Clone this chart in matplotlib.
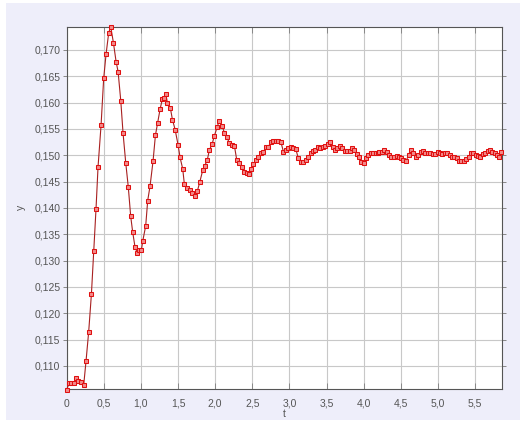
import matplotlib
matplotlib.use("Agg")
import matplotlib.pyplot as plt
from matplotlib.patches import Rectangle
from matplotlib.ticker import FuncFormatter

# response (t in seconds, y)
t = [0.000, 0.031, 0.063, 0.094, 0.126, 0.157, 0.189, 0.229, 0.260, 0.296,
     0.333, 0.364, 0.395, 0.422, 0.463, 0.498, 0.530, 0.566, 0.593, 0.629,
     0.665, 0.692, 0.728, 0.759, 0.795, 0.830, 0.862, 0.889, 0.920, 0.952,
     0.973, 1.006, 1.024, 1.064, 1.091, 1.123, 1.163, 1.195, 1.226, 1.257,
     1.287, 1.312, 1.334, 1.356, 1.397, 1.424, 1.460, 1.500, 1.527, 1.563,
     1.585, 1.625, 1.662, 1.693, 1.729, 1.760, 1.792, 1.833, 1.860, 1.895,
     1.922, 1.958, 1.989, 2.026, 2.053, 2.093, 2.124, 2.156, 2.192, 2.228,
     2.259, 2.291, 2.326, 2.358, 2.389, 2.426, 2.457, 2.484, 2.515, 2.551,
     2.582, 2.619, 2.650, 2.686, 2.717, 2.749, 2.785, 2.817, 2.848, 2.884,
     2.919, 2.951, 2.987, 3.019, 3.054, 3.086, 3.121, 3.154, 3.189, 3.221,
     3.252, 3.288, 3.319, 3.350, 3.383, 3.418, 3.450, 3.485, 3.518, 3.549,
     3.585, 3.616, 3.647, 3.683, 3.714, 3.747, 3.778, 3.814, 3.845, 3.876,
     3.908, 3.939, 3.970, 4.003, 4.034, 4.065, 4.097, 4.132, 4.164, 4.200,
     4.213, 4.245, 4.276, 4.312, 4.344, 4.375, 4.407, 4.443, 4.474, 4.506,
     4.537, 4.573, 4.605, 4.636, 4.668, 4.704, 4.735, 4.767, 4.798, 4.830,
     4.866, 4.897, 4.928, 4.960, 4.996, 5.027, 5.058, 5.090, 5.126, 5.157,
     5.189, 5.220, 5.252, 5.283, 5.315, 5.351, 5.382, 5.414, 5.445, 5.476,
     5.508, 5.539, 5.571, 5.602, 5.634, 5.670, 5.701, 5.733, 5.764, 5.796,
     5.827, 5.854]
y = [0.1055, 0.1067, 0.1067, 0.1067, 0.1077, 0.1072, 0.1069, 0.1064, 0.1109, 0.1165,
     0.1237, 0.1319, 0.1399, 0.1478, 0.1558, 0.1646, 0.1692, 0.1733, 0.1744, 0.1714,
     0.1678, 0.1659, 0.1604, 0.1542, 0.1486, 0.1439, 0.1384, 0.1354, 0.1326, 0.1314,
     0.1320, 0.1320, 0.1337, 0.1366, 0.1414, 0.1442, 0.1489, 0.1538, 0.1562, 0.1587,
     0.1606, 0.1609, 0.1617, 0.1600, 0.1589, 0.1568, 0.1549, 0.1520, 0.1496, 0.1474,
     0.1445, 0.1437, 0.1435, 0.1429, 0.1423, 0.1432, 0.1449, 0.1472, 0.1480, 0.1492,
     0.1510, 0.1521, 0.1537, 0.1553, 0.1565, 0.1556, 0.1543, 0.1535, 0.1523, 0.1520,
     0.1518, 0.1491, 0.1485, 0.1478, 0.1469, 0.1466, 0.1465, 0.1474, 0.1483, 0.1491,
     0.1497, 0.1504, 0.1507, 0.1515, 0.1516, 0.1525, 0.1528, 0.1528, 0.1528, 0.1526,
     0.1507, 0.1511, 0.1513, 0.1515, 0.1513, 0.1512, 0.1494, 0.1488, 0.1487, 0.1492,
     0.1496, 0.1504, 0.1508, 0.1510, 0.1515, 0.1513, 0.1516, 0.1518, 0.1522, 0.1525,
     0.1516, 0.1510, 0.1513, 0.1518, 0.1513, 0.1509, 0.1509, 0.1509, 0.1513, 0.1510,
     0.1503, 0.1496, 0.1488, 0.1485, 0.1494, 0.1501, 0.1505, 0.1505, 0.1505, 0.1504,
     0.1507, 0.1507, 0.1511, 0.1507, 0.1501, 0.1497, 0.1496, 0.1499, 0.1496, 0.1494,
     0.1492, 0.1489, 0.1501, 0.1510, 0.1505, 0.1497, 0.1501, 0.1506, 0.1508, 0.1505,
     0.1504, 0.1505, 0.1503, 0.1502, 0.1507, 0.1504, 0.1502, 0.1504, 0.1505, 0.1501,
     0.1497, 0.1496, 0.1494, 0.1490, 0.1489, 0.1490, 0.1493, 0.1496, 0.1504, 0.1504,
     0.1501, 0.1499, 0.1496, 0.1502, 0.1504, 0.1508, 0.1510, 0.1507, 0.1505, 0.1501,
     0.1496, 0.1507]

x_ticks = [0, 0.5, 1.0, 1.5, 2.0, 2.5, 3.0, 3.5, 4.0, 4.5, 5.0, 5.5]
y_ticks = [0.110, 0.115, 0.120, 0.125, 0.130, 0.135, 0.140, 0.145,
           0.150, 0.155, 0.160, 0.165, 0.170]

plt.rcParams['font.family'] = ['Liberation Sans', 'DejaVu Sans']

fig = plt.figure(figsize=(5.2, 4.26), dpi=100)
fig.patch.set_facecolor('white')
# lavender panel behind the plot
fig.patches.append(Rectangle((6 / 520, 6 / 426), 514 / 520, 417 / 426,
                             transform=fig.transFigure, facecolor='#EEEEFA',
                             edgecolor='none', zorder=-10))

ax = fig.add_axes([0.1283, 0.0869, 0.8365, 0.8504])
ax.set_zorder(1)
ax.set_facecolor('white')

ax.plot(t, y, color='#A82020', lw=0.8, marker='s', markersize=3.4,
        markerfacecolor='#F28A8A', markeredgecolor='#E01010',
        markeredgewidth=0.75, clip_on=False, zorder=3)

ax.set_xlim(0, 5.86)
ax.set_ylim(0.10563, 0.17442)
ax.set_xticks(x_ticks)
ax.set_yticks(y_ticks)

def komaga(v, pos, nd):
    if abs(v) < 1e-9:
        return '0'
    return f'{v:.{nd}f}'.replace('.', ',')

ax.xaxis.set_major_formatter(FuncFormatter(lambda v, p: komaga(v, p, 1)))
ax.yaxis.set_major_formatter(FuncFormatter(lambda v, p: komaga(v, p, 3)))

ax.grid(True, color='#C8C8C8', lw=0.8)
ax.set_axisbelow(True)
for s in ax.spines.values():
    s.set_color('#555555')
    s.set_linewidth(0.8)

ax.tick_params(axis='y', which='both', direction='out', length=3, width=0.7,
               color='#888888', labelsize=7.5, labelcolor='#555555', pad=1.5,
               right=True)
ax.tick_params(axis='x', which='both', direction='in', length=4, width=0.7,
               color='#888888', labelsize=7.5, labelcolor='#555555', pad=7,
               top=True)

ax.set_xlabel('t', fontsize=7.5, color='#555555', labelpad=0)
ax.set_ylabel('y', fontsize=7.5, color='#555555', labelpad=6)

fig.savefig('out.png', dpi=100, facecolor=fig.get_facecolor())
